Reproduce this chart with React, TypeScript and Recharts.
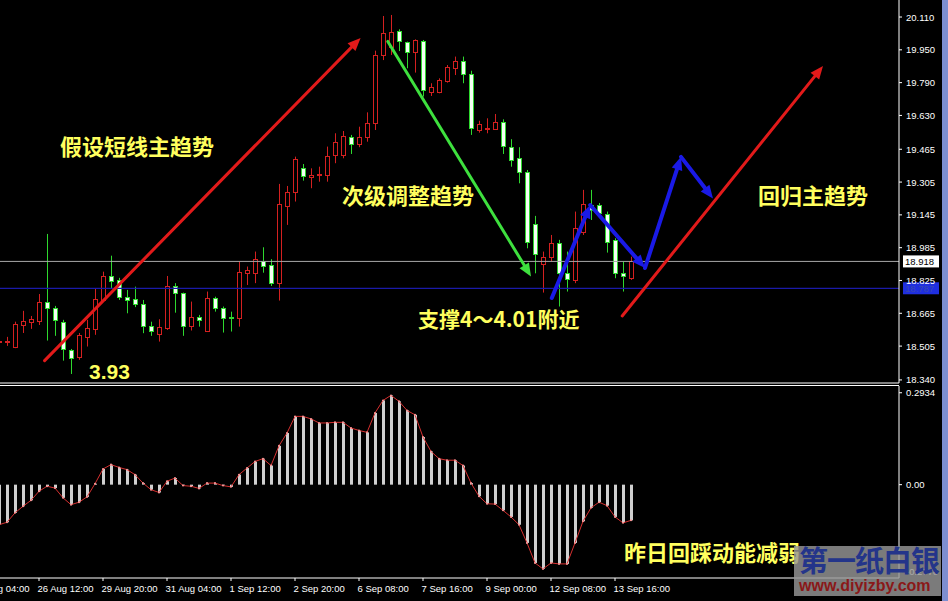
import { ComposedChart, Bar, Line, XAxis, YAxis, ReferenceLine } from 'recharts';

// 4-hour candles, oldest first
const opens = [
  18.525, 18.525, 18.498, 18.608, 18.623, 18.629, 18.72, 18.693, 18.624, 18.488,
  18.451, 18.551, 18.587, 18.73, 18.849, 18.828, 18.743, 18.734, 18.709, 18.603,
  18.564, 18.592, 18.798, 18.763, 18.6, 18.646, 18.581, 18.741, 18.69, 18.649,
  18.646, 18.863, 18.86, 18.922, 18.901, 18.812, 19.189, 19.255, 19.372, 19.331,
  19.335, 19.34, 19.437, 19.437, 19.526, 19.491, 19.524, 19.592, 19.925, 19.965,
  20.042, 19.987, 19.938, 19.995, 19.746, 19.746, 19.798, 19.86, 19.896, 19.832,
  19.559, 19.562, 19.567, 19.6, 19.478, 19.421, 19.353, 19.099, 18.909, 18.938,
  19.007, 18.86, 18.828, 19.063, 19.193, 19.193, 19.15, 19.023, 18.86, 18.836,
];
const highs = [
  18.54, 18.55, 18.624, 18.677, 18.652, 18.759, 19.052, 18.701, 18.633, 18.491,
  18.569, 18.633, 18.787, 18.868, 18.946, 18.838, 18.779, 18.795, 18.73, 18.624,
  18.636, 18.847, 18.812, 18.766, 18.722, 18.657, 18.771, 18.746, 18.698, 18.673,
  18.917, 18.893, 18.966, 18.987, 18.929, 19.296, 19.286, 19.429, 19.393, 19.372,
  19.38, 19.478, 19.543, 19.554, 19.535, 19.575, 19.645, 19.946, 20.115, 20.12,
  20.05, 19.99, 20.001, 19.998, 19.787, 19.811, 19.876, 19.917, 19.917, 19.848,
  19.604, 19.616, 19.637, 19.611, 19.514, 19.475, 19.364, 19.14, 18.966, 19.047,
  19.023, 18.966, 19.161, 19.267, 19.267, 19.203, 19.161, 19.031, 18.917, 18.941,
];
const lows = [
  18.516, 18.506, 18.495, 18.569, 18.589, 18.608, 18.532, 18.555, 18.434, 18.369,
  18.438, 18.503, 18.56, 18.722, 18.787, 18.73, 18.665, 18.695, 18.568, 18.555,
  18.527, 18.584, 18.668, 18.555, 18.581, 18.6, 18.576, 18.673, 18.571, 18.576,
  18.6, 18.803, 18.812, 18.863, 18.798, 18.727, 19.096, 19.21, 19.312, 19.275,
  19.307, 19.307, 19.397, 19.421, 19.442, 19.475, 19.502, 19.559, 19.9, 19.925,
  19.944, 19.86, 19.839, 19.722, 19.725, 19.738, 19.79, 19.827, 19.787, 19.535,
  19.546, 19.543, 19.559, 19.442, 19.38, 19.299, 18.982, 18.86, 18.766, 18.917,
  18.698, 18.771, 18.812, 19.047, 19.12, 19.145, 18.961, 18.836, 18.771, 18.828,
];
const closes = [
  18.53, 18.53, 18.612, 18.628, 18.638, 18.72, 18.693, 18.633, 18.49, 18.451,
  18.56, 18.595, 18.734, 18.847, 18.824, 18.743, 18.73, 18.709, 18.6, 18.581,
  18.6, 18.798, 18.766, 18.6, 18.646, 18.629, 18.741, 18.69, 18.641, 18.642,
  18.868, 18.876, 18.929, 18.899, 18.812, 19.198, 19.255, 19.416, 19.335, 19.34,
  19.342, 19.432, 19.502, 19.53, 19.494, 19.526, 19.592, 19.925, 20.031, 20.036,
  19.993, 19.938, 19.998, 19.754, 19.77, 19.803, 19.868, 19.896, 19.832, 19.567,
  19.588, 19.567, 19.6, 19.481, 19.416, 19.353, 19.01, 18.954, 18.941, 19.007,
  18.86, 18.831, 19.08, 19.198, 19.169, 19.153, 19.015, 18.863, 18.844, 18.918,
];
const macd = [
  -0.128, -0.12, -0.09, -0.069, -0.05, -0.021, -0.005, -0.011, -0.042, -0.064,
  -0.056, -0.039, 0.003, 0.05, 0.064, 0.055, 0.048, 0.032, 0.005, -0.016,
  -0.025, 0.011, 0.021, -0.003, -0.005, -0.012, 0.005, 0.005, -0.003, -0.007,
  0.032, 0.053, 0.074, 0.083, 0.061, 0.124, 0.165, 0.218, 0.218, 0.21,
  0.197, 0.197, 0.199, 0.199, 0.181, 0.173, 0.167, 0.229, 0.269, 0.285,
  0.266, 0.237, 0.223, 0.152, 0.106, 0.083, 0.078, 0.078, 0.061, 0.005,
  -0.037, -0.061, -0.062, -0.082, -0.103, -0.128, -0.186, -0.25, -0.269, -0.25,
  -0.253, -0.253, -0.186, -0.117, -0.074, -0.056, -0.067, -0.103, -0.122, -0.114,
];

const priceTicks = [20.11, 19.95, 19.79, 19.63, 19.465, 19.305, 19.145, 18.985, 18.825, 18.665, 18.505, 18.34];
const macdTicks = [0.2934, 0, -0.2778];
const macdTickLabels = ['0.2934', '0.00', '-0.2778'];
const timeLabels = [
  '25 Aug 04:00', '26 Aug 12:00', '29 Aug 20:00', '31 Aug 04:00', '1 Sep 12:00', '2 Sep 20:00',
  '6 Sep 08:00', '7 Sep 16:00', '9 Sep 00:00', '12 Sep 08:00', '13 Sep 16:00',
];
const supportLine = 18.787;
const bidLine = closes[closes.length - 1];

// hand-drawn arrows, in (bar index, price)
const trendArrow = [{ x: 5.7, y: 18.434 }, { x: 45.2, y: 20.008 }];
const pullbackArrow = [{ x: 48.6, y: 19.991 }, { x: 66.5, y: 18.845 }];
const swingPath = [
  { x: 69.1, y: 18.74 }, { x: 73.9, y: 19.193 }, { x: 80.75, y: 18.886 },
  { x: 85.25, y: 19.428 }, { x: 89.25, y: 19.225 },
];
const resumeArrow = [{ x: 77.9, y: 18.652 }, { x: 103, y: 19.871 }];

const FIRST = -3;
const LAST = 112;
const TICK_STEP = 8;
const tickIdx = timeLabels.map((_, k) => FIRST + k * TICK_STEP);

const rows: any[] = [];
for (let i = FIRST; i <= LAST; i++) {
  if (i >= 0 && i < opens.length) {
    rows.push({ i, o: opens[i], h: highs[i], l: lows[i], c: closes[i], range: [lows[i], highs[i]], macd: macd[i] });
  } else {
    rows.push({ i });
  }
}

const UP = '#d42020';
const DOWN = '#2ed82e';
const FONT = '"Liberation Sans", Arial, sans-serif';
const CJK = '"Noto Sans CJK SC", sans-serif';
const YELLOW = '#ffff5e';

const Candle = (props: any) => {
  const { x, y, width, height, payload } = props;
  if (!payload || payload.o == null || !height) return <g />;
  const { o, h, l, c } = payload;
  const k = height / (h - l);
  const cx = Math.floor(x + width / 2) + 0.5;
  const yO = y + (h - o) * k;
  const yC = y + (h - c) * k;
  const up = c >= o;
  const color = up ? UP : DOWN;
  const top = Math.round(Math.min(yO, yC)) + 0.5;
  const bh = Math.max(Math.round(Math.abs(yO - yC)), 1);
  return (
    <g>
      <line x1={cx} x2={cx} y1={y} y2={y + height} stroke={color} strokeWidth={1} />
      <rect x={cx - 2} y={top} width={4} height={bh} fill={up ? '#000' : '#f4fff4'} stroke={color} strokeWidth={1} />
    </g>
  );
};

const arrowShape = (color: string, w: number) => (p: any) => {
  const { x1, y1, x2, y2 } = p;
  const dx = x2 - x1;
  const dy = y2 - y1;
  const len = Math.hypot(dx, dy) || 1;
  const ux = dx / len;
  const uy = dy / len;
  const head = 13;
  const half = 5.5;
  const bx = x2 - ux * head;
  const by = y2 - uy * head;
  const pts = `${x2},${y2} ${bx - uy * half},${by + ux * half} ${bx + uy * half},${by - ux * half}`;
  return (
    <g>
      <line x1={x1} y1={y1} x2={bx + ux * 3} y2={by + uy * 3} stroke={color} strokeWidth={w} strokeLinecap="round" />
      <polygon points={pts} fill={color} />
    </g>
  );
};

const PriceTick = ({ x, y, payload }: any) => (
  <text x={x} y={y} dy={3.5} fill="#fff" fontSize={9.5} fontFamily={FONT} textAnchor="start">
    {payload.value.toFixed(3)}
  </text>
);

const MacdTick = ({ x, y, payload }: any) => (
  <text x={x} y={y} dy={3.5} fill="#fff" fontSize={9.5} fontFamily={FONT} textAnchor="start">
    {macdTickLabels[macdTicks.indexOf(payload.value)]}
  </text>
);

const TimeTick = ({ x, y, payload }: any) => (
  <text x={x - 1.5} y={y + 8.5} fill="#fff" fontSize={9.5} fontFamily={FONT} textAnchor="start">
    {timeLabels[tickIdx.indexOf(payload.value)]}
  </text>
);

const priceTag = (value: number, bg: string, fg: string) => (p: any) => {
  const vb = p.viewBox;
  const x = vb.x + vb.width + 4;
  const y = vb.y;
  return (
    <g>
      <rect x={x} y={y - 6} width={36} height={12} fill={bg} />
      <text x={x + 2} y={y + 4} fill={fg} fontSize={9.5} fontFamily={FONT}>{value.toFixed(3)}</text>
    </g>
  );
};

const note = (left: number, top: number, size: number, text: string, family = CJK) => (
  <div
    style={{
      position: 'fixed', left, top, fontSize: size, lineHeight: 1, color: YELLOW,
      fontFamily: family, fontWeight: 700, whiteSpace: 'nowrap',
    }}
  >
    {text}
  </div>
);

export default function App() {
  return (
    <div style={{ position: 'fixed', left: 0, top: 0, width: 948, height: 601, background: '#000', overflow: 'hidden' }}>
      {/* price pane */}
      <div style={{ position: 'absolute', left: -29, top: 0 }}>
        <ComposedChart width={977} height={384} data={rows} margin={{ top: 0, right: 0, bottom: 0, left: 0 }}>
          <XAxis dataKey="i" height={1} tick={false} tickLine={false} axisLine={{ stroke: '#fff' }} />
          <XAxis xAxisId="n" type="number" dataKey="i" domain={[FIRST - 0.5, LAST + 0.5]} allowDataOverflow hide />
          <YAxis
            orientation="right"
            width={49}
            domain={[18.325, 20.193]}
            allowDataOverflow
            ticks={priceTicks}
            interval={0}
            tickSize={3}
            tickMargin={4}
            tickLine={{ stroke: '#fff' }}
            axisLine={{ stroke: '#fff' }}
            tick={<PriceTick />}
          />
          <ReferenceLine y={bidLine} stroke="#a8a8a8" strokeWidth={1} label={priceTag(bidLine, '#fff', '#000')} />
          <ReferenceLine y={supportLine} stroke="#1a1aa8" strokeWidth={1.2} label={priceTag(supportLine, '#1f2fe0', '#3a48b0')} />
          <Bar dataKey="range" barSize={5} shape={<Candle />} isAnimationActive={false} />
          <ReferenceLine xAxisId="n" segment={trendArrow} shape={arrowShape('#e21a1a', 3)} />
          <ReferenceLine xAxisId="n" segment={pullbackArrow} shape={arrowShape('#3ee03e', 3)} />
          {swingPath.slice(1).map((pt, k) => (
            <ReferenceLine key={k} xAxisId="n" segment={[swingPath[k], pt]} shape={arrowShape('#1a1ae6', 4)} />
          ))}
          <ReferenceLine xAxisId="n" segment={resumeArrow} shape={arrowShape('#e21a1a', 3)} />
        </ComposedChart>
      </div>

      <div style={{ position: 'absolute', left: 0, top: 385, width: 899, height: 1, background: '#fff' }} />

      {/* oscillator pane */}
      <div style={{ position: 'absolute', left: -29, top: 385 }}>
        <ComposedChart width={977} height={216} data={rows} margin={{ top: 1, right: 0, bottom: 0, left: 0 }}>
          <XAxis
            dataKey="i"
            height={23}
            ticks={tickIdx}
            interval={0}
            tickSize={3}
            tickMargin={2}
            tickLine={{ stroke: '#fff' }}
            axisLine={{ stroke: '#fff' }}
            tick={<TimeTick />}
          />
          <YAxis
            orientation="right"
            width={49}
            domain={[-0.298, 0.315]}
            allowDataOverflow
            ticks={macdTicks}
            interval={0}
            tickSize={3}
            tickMargin={4}
            tickLine={{ stroke: '#fff' }}
            axisLine={{ stroke: '#fff' }}
            tick={<MacdTick />}
          />
          <Bar dataKey="macd" barSize={3} fill="#cfcfcf" isAnimationActive={false} />
          <Line
            dataKey="macd"
            stroke="#d63030"
            strokeWidth={1}
            dot={{ r: 1, fill: '#ff9a9a', stroke: 'none' }}
            isAnimationActive={false}
          />
        </ComposedChart>
      </div>

      {note(60, 134, 22, '假设短线主趋势')}
      {note(342, 183, 22, '次级调整趋势')}
      {note(418, 308, 21, '支撑4～4.01附近')}
      {note(758, 183, 22, '回归主趋势')}
      {note(624, 540, 22, '昨日回踩动能减弱')}
      {note(89, 361, 21, '3.93', FONT)}

      {/* site watermark */}
      <div style={{ position: 'absolute', left: 794, top: 546, width: 147, height: 50, background: 'rgba(150,150,150,0.82)' }}>
        <div style={{ position: 'absolute', left: 5, top: -1, fontFamily: CJK, fontWeight: 700, fontSize: 29, lineHeight: 1, letterSpacing: -1, color: '#24358a', whiteSpace: 'nowrap' }}>
          第一纸白银
        </div>
        <div style={{ position: 'absolute', left: 5, top: 32, fontFamily: FONT, fontWeight: 700, fontSize: 16, lineHeight: 1, color: '#8a1818', whiteSpace: 'nowrap' }}>
          www.diyizby.com
        </div>
      </div>

      <div style={{ position: 'absolute', left: 942, top: 0, width: 6, height: 601, background: '#7d8ed0' }} />
    </div>
  );
}
